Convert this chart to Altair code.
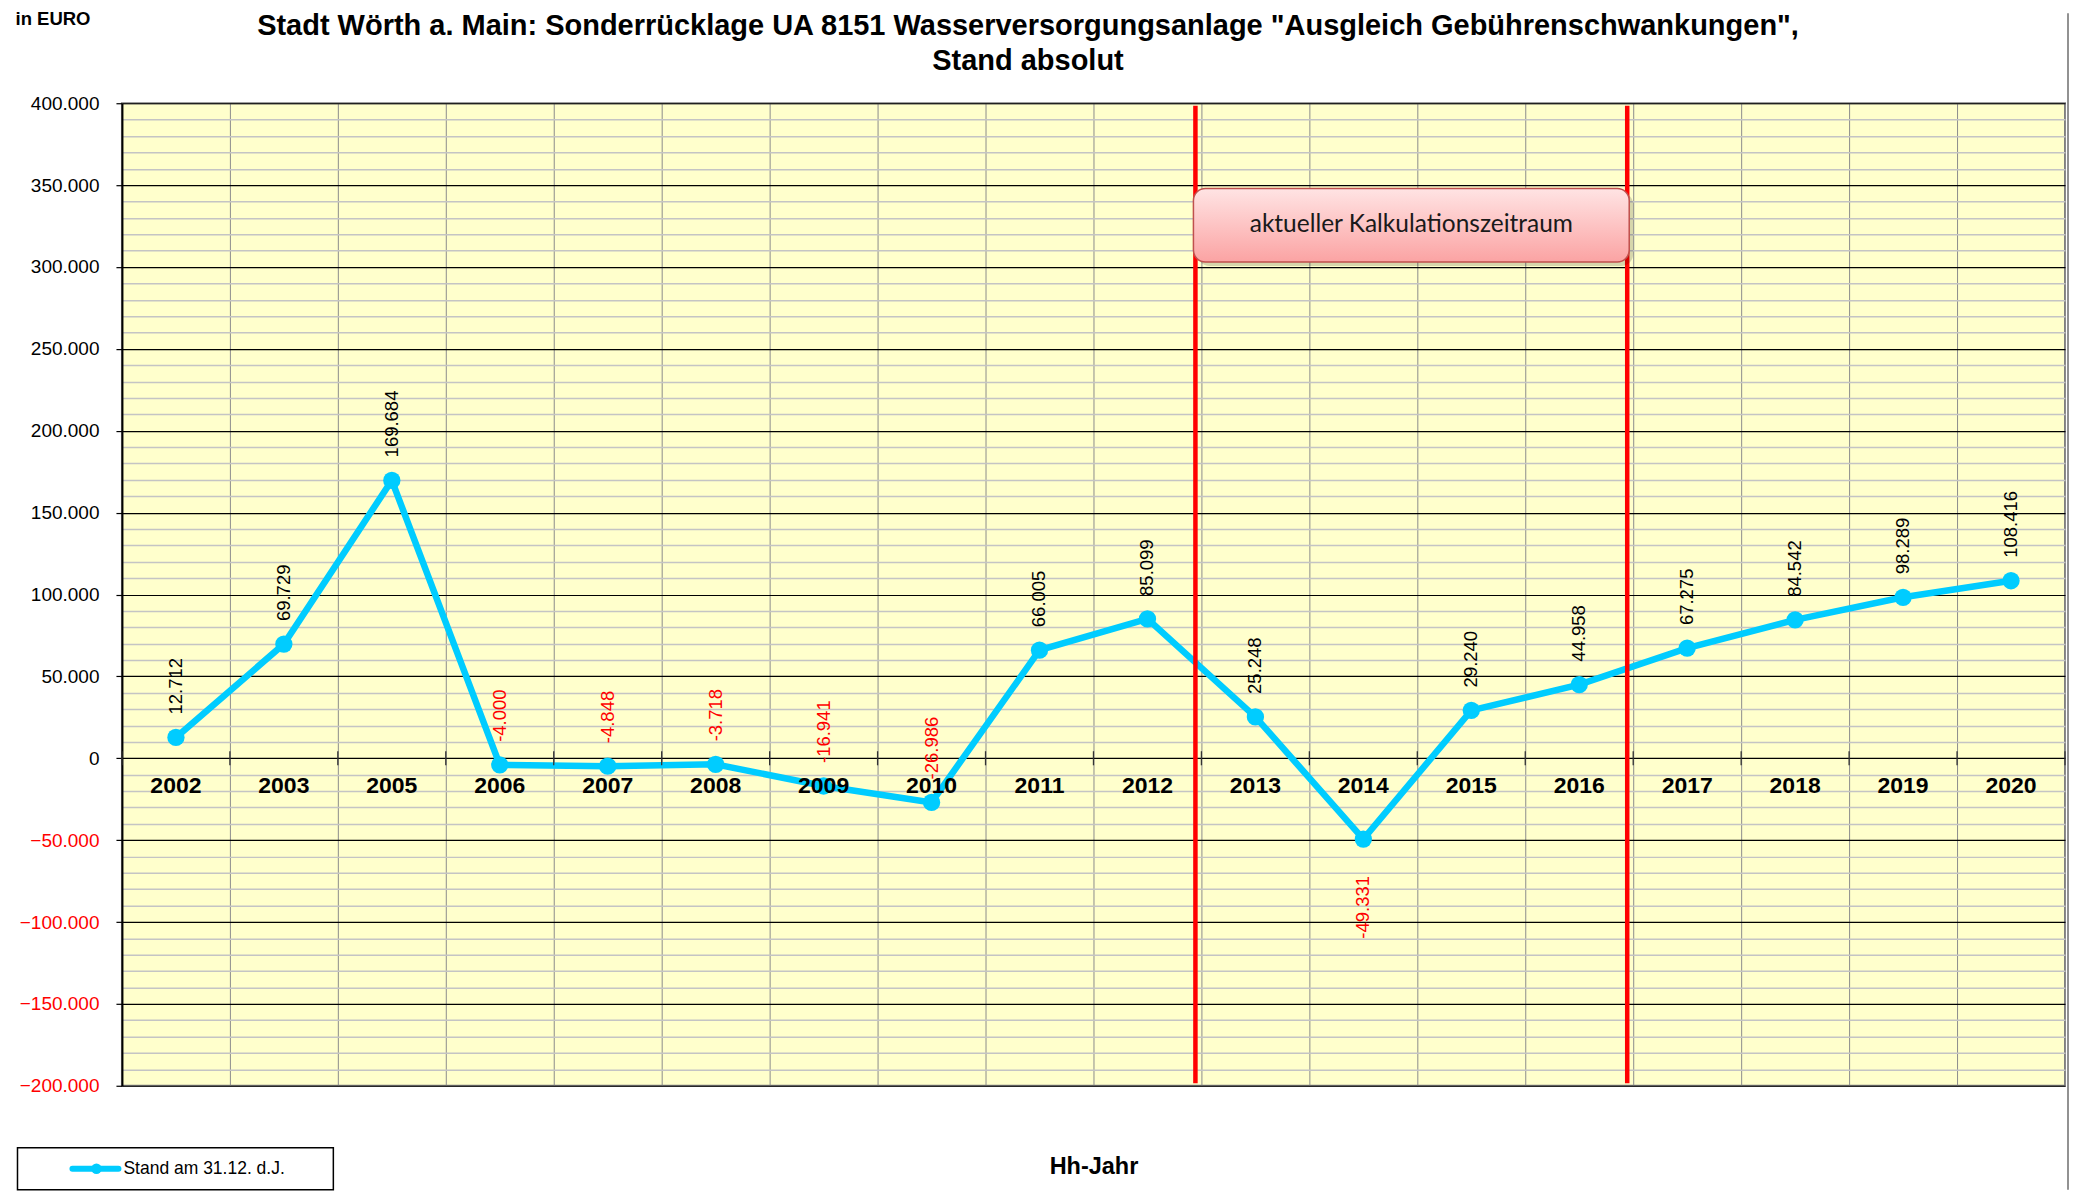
import altair as alt
import pandas as pd

# ---------------- data ----------------
years = ["2002", "2003", "2005", "2006", "2007", "2008", "2009", "2010", "2011",
         "2012", "2013", "2014", "2015", "2016", "2017", "2018", "2019", "2020"]
values = [12712, 69729, 169684, -4000, -4848, -3718, -16941, -26986, 66005,
          85099, 25248, -49331, 29240, 44958, 67275, 84542, 98289, 108416]
labels_below = ["2014"]

series_name = "Stand am 31.12. d.J."
title_text = ('Stadt Wörth a. Main: Sonderrücklage UA 8151 Wasserversorgungsanlage "Ausgleich Gebührenschwankungen",'
              "\nStand absolut")
unit_text = "in EURO"
x_title = "Hh-Jahr"
period_years = ["2013", "2016"]
period_text = "aktueller Kalkulationszeitraum"
period_box_values = [348000, 303000]

y_min, y_max = -200000, 400000
y_major, y_minor = 50000, 10000

FONT = "Liberation Sans"
CYAN = "#00CCFF"
PLOT_BG = "#FFFFCC"
W, H = 1944, 983


def de(v):
    return f"{v:,}".replace(",", ".")


n = len(years)
df = pd.DataFrame({"idx": list(range(n)), "year": years, "value": values})
df["label"] = df["value"].map(de)
df["neg"] = df["value"] < 0
df["below"] = df["year"].isin(labels_below)

bounds = pd.DataFrame({"b": [i - 0.5 for i in range(n + 1)]})
p0 = years.index(period_years[0]) - 0.5
p1 = years.index(period_years[1]) + 0.5
period_df = pd.DataFrame({"b": [p0, p1]})
box_df = pd.DataFrame({
    "x1": [p0], "x2": [p1],
    "y1": [period_box_values[0]], "y2": [period_box_values[1]],
    "xm": [(p0 + p1) / 2], "ym": [sum(period_box_values) / 2],
    "t": [period_text],
})

xscale = alt.Scale(domain=[-0.5, n - 0.5], nice=False, zero=False)
yscale = alt.Scale(domain=[y_min, y_max], nice=False, zero=False)

is_major = f"datum.value % {y_major} == 0"

x_axis = alt.Axis(
    values=[i - 0.5 for i in range(n + 1)],
    grid=True, gridColor="#8C8C8C", gridWidth=1,
    labels=False, ticks=False, domain=False,
    title=x_title, titleFont=FONT, titleFontSize=23.5, titleFontWeight="bold",
    titleColor="black", titlePadding=69,
)
y_axis = alt.Axis(
    values=list(range(y_min, y_max + 1, y_minor)),
    grid=True,
    gridColor={"condition": {"test": is_major, "value": "#000000"}, "value": "#C4C4C4"},
    gridWidth={"condition": {"test": is_major, "value": 1.2}, "value": 1.5},
    labelExpr=f"{is_major} ? (datum.value == 0 ? '0' : replace(format(datum.value, ','), ',', '.')) : ''",
    labelColor={"condition": {"test": "datum.value < 0", "value": "#FF0000"}, "value": "#000000"},
    labelFont=FONT, labelFontSize=19, labelPadding=17, labelOverlap=False, labelFlush=False,
    tickSize=6, tickWidth=1.2,
    tickColor={"condition": {"test": is_major, "value": "#000000"}, "value": "rgba(0,0,0,0)"},
    domain=True, domainColor="#000000", domainWidth=2,
    title=None,
)


def X(field):
    return alt.X(field, scale=xscale, axis=x_axis)


def Y(field):
    return alt.Y(field, scale=yscale, axis=y_axis)


base = alt.Chart(df)

line = base.mark_line(strokeWidth=6.5, color=CYAN).encode(x=X("idx:Q"), y=Y("value:Q"))

points = base.mark_point(filled=True, size=300, opacity=1, color=CYAN).encode(
    x=X("idx:Q"), y=Y("value:Q"),
)

label_color = alt.condition("datum.neg", alt.value("#FF0000"), alt.value("#000000"))

labels_up = base.transform_filter("!datum.below").mark_text(
    angle=270, align="left", baseline="middle", dx=23, font=FONT, fontSize=18.5,
).encode(x=X("idx:Q"), y=Y("value:Q"), text="label:N", color=label_color)

labels_down = base.transform_filter("datum.below").mark_text(
    angle=270, align="right", baseline="middle", dx=-37, font=FONT, fontSize=18.5,
).encode(x=X("idx:Q"), y=Y("value:Q"), text="label:N", color=label_color)

year_labels = base.transform_calculate(zero="0").mark_text(
    baseline="middle", align="center", dy=28, font=FONT, fontSize=23, fontWeight="bold", color="black",
).encode(x=X("idx:Q"), y=Y("zero:Q"), text="year:N")

zero_ticks = alt.Chart(bounds).transform_calculate(lo="-4300", hi="4300").mark_rule(
    color="#333333", strokeWidth=1.3,
).encode(x=X("b:Q"), y=Y("lo:Q"), y2="hi:Q")

period_rules = alt.Chart(period_df).transform_calculate(
    lo=str(y_min + 1500), hi=str(y_max - 1500)
).mark_rule(color="#FF0000", strokeWidth=4.5, xOffset=-6).encode(
    x=X("b:Q"), y=Y("lo:Q"), y2="hi:Q",
)

box_shadow = alt.Chart(box_df).mark_rect(
    cornerRadius=12, color="#000000", opacity=0.16, xOffset=-4, x2Offset=0, yOffset=4, y2Offset=4,
).encode(x=X("x1:Q"), x2="x2:Q", y=Y("y1:Q"), y2="y2:Q")

box = alt.Chart(box_df).mark_rect(
    cornerRadius=12, stroke="#C0504D", strokeWidth=1.5, xOffset=-8, x2Offset=-4,
    color=alt.Gradient(
        gradient="linear",
        stops=[alt.GradientStop(color="#FFE4E4", offset=0),
               alt.GradientStop(color="#FBA3A3", offset=1)],
        x1=0, x2=0, y1=0, y2=1,
    ),
).encode(x=X("x1:Q"), x2="x2:Q", y=Y("y1:Q"), y2="y2:Q")

box_text = alt.Chart(box_df).mark_text(
    font="Lato", fontSize=24.5, color="#1A1A1A", align="center", baseline="middle", xOffset=-6,
).encode(x=X("xm:Q"), y=Y("ym:Q"), text="t:N")

unit = alt.Chart(pd.DataFrame({"t": [unit_text]})).mark_text(
    font=FONT, fontSize=18.5, fontWeight="bold", align="left", baseline="middle",
    x=-106.5, y=-84, color="black",
).encode(text="t:N")

title = alt.Chart(pd.DataFrame({"t": [title_text]})).mark_text(
    font=FONT, fontSize=29, fontWeight="bold", align="center", baseline="top",
    lineBreak="\n", lineHeight=35, x=906.5, y=-91, color="black",
).encode(text="t:N")

# ---- legend (box with line+marker symbol and label) ----
leg_df = pd.DataFrame({"t": [series_name]})
leg_box = alt.Chart(leg_df).mark_rect(fill="white", stroke="#000000", strokeWidth=1.5).encode(
    x=alt.value(-104.5), x2=alt.value(211.5), y=alt.value(1045), y2=alt.value(1087),
)
leg_line = alt.Chart(leg_df).mark_rule(color=CYAN, strokeWidth=6, strokeCap="round").encode(
    x=alt.value(-49.5), x2=alt.value(-3.5), y=alt.value(1066),
)
leg_point = alt.Chart(leg_df).mark_point(filled=True, size=110, opacity=1, color=CYAN).encode(
    x=alt.value(-25.5), y=alt.value(1066),
)
leg_text = alt.Chart(leg_df).mark_text(
    font=FONT, fontSize=17.5, align="left", baseline="middle", color="black",
).encode(x=alt.value(1.5), y=alt.value(1066), text="t:N")

# chart object frame (right edge)
frame = alt.Chart(leg_df).mark_rule(color="#6E6E6E", strokeWidth=1.5).encode(
    x=alt.value(W + 3), y=alt.value(-90), y2=alt.value(1087),
)

chart = alt.layer(
    line, zero_ticks, period_rules, box_shadow, box, box_text,
    points, year_labels, labels_up, labels_down, unit, title,
    leg_box, leg_line, leg_point, leg_text, frame,
).properties(
    width=W, height=H,
    padding={"left": 7, "top": 2, "right": 0, "bottom": 0},
    view=alt.ViewBackground(fill=PLOT_BG, stroke="#808080", strokeWidth=2),
).configure_view(
    fill=PLOT_BG, stroke="#808080", strokeWidth=2,
)

chart.save("out.html", embed_options={"renderer": "svg", "actions": False})
